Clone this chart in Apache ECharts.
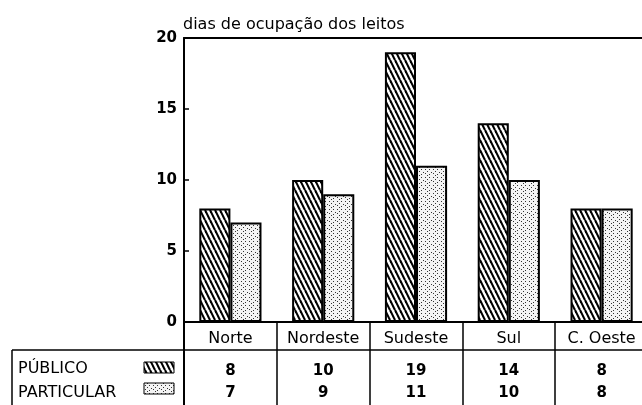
<!DOCTYPE html>
<html>
<head>
<meta charset="utf-8">
<script src="https://cdn.jsdelivr.net/npm/echarts@6/dist/echarts.min.js"></script>
<style>html,body{margin:0;padding:0;background:#fff}#c{width:642px;height:405px}</style>
</head>
<body>
<div id="c"></div>
<script>
var categories = ['Norte', 'Nordeste', 'Sudeste', 'Sul', 'C. Oeste'];
var publico = [8, 10, 19, 14, 8];
var particular = [7, 9, 11, 10, 8];
var seriesNames = ['PÚBLICO', 'PARTICULAR'];
var yTicks = [0, 5, 10, 15, 20];
var titleText = 'dias de ocupação dos leitos';

function hatchCanvas() {
  var c = document.createElement('canvas');
  c.width = 5; c.height = 10;
  var g = c.getContext('2d');
  g.fillStyle = '#fff'; g.fillRect(0, 0, 5, 10);
  g.strokeStyle = '#000'; g.lineWidth = 2.1;
  for (var k = -1; k <= 1; k++) {
    g.beginPath(); g.moveTo(k * 5, 0); g.lineTo(k * 5 + 5, 10); g.stroke();
  }
  return c;
}
function dotCanvas() {
  var c = document.createElement('canvas');
  c.width = 8; c.height = 8;
  var g = c.getContext('2d');
  g.fillStyle = '#f4f4f4'; g.fillRect(0, 0, 8, 8);
  g.fillStyle = '#333';
  [[1,1],[5,1],[3,3],[7,4],[1,5],[5,6],[3,7]].forEach(function (p) { g.fillRect(p[0], p[1], 1, 1); });
  return c;
}
var hatch = {image: hatchCanvas(), repeat: 'repeat'};
var dots = {image: dotCanvas(), repeat: 'repeat'};
var FONT = 'DejaVu Sans';

var chart = echarts.init(document.getElementById('c'), null, {renderer: 'canvas'});
chart.setOption({
  animation: false,
  backgroundColor: '#fff',
  title: {
    text: titleText, left: 178, top: 12,
    textStyle: {fontFamily: FONT, fontSize: 16, fontWeight: 'normal', color: '#000'}
  },
  grid: {left: 184, top: 38, width: 464, height: 284, containLabel: false, outerBoundsMode: 'none'},
  xAxis: [{
    type: 'category', data: categories, position: 'bottom',
    axisLine: {show: true, lineStyle: {color: '#000', width: 2}},
    axisTick: {show: true, interval: 0, length: 83, alignWithLabel: false, lineStyle: {color: '#000', width: 1.5}},
    axisLabel: {
      interval: 0, margin: 3, color: '#000', fontFamily: FONT, hideOverlap: false,
      formatter: function (v, i) {
        return '{h|' + v + '}\n{a|' + publico[i] + '}\n{b|' + particular[i] + '}';
      },
      rich: {
        h: {fontFamily: FONT, fontSize: 16, lineHeight: 28, color: '#000'},
        a: {fontFamily: FONT, fontSize: 15, fontWeight: 'bold', lineHeight: 36, color: '#000'},
        b: {fontFamily: FONT, fontSize: 15, fontWeight: 'bold', lineHeight: 8, color: '#000'}
      }
    },
    splitLine: {show: false}
  }, {
    type: 'category', data: categories, position: 'top',
    axisLine: {show: true, lineStyle: {color: '#000', width: 2}},
    axisTick: {show: false}, axisLabel: {show: false}, splitLine: {show: false}
  }],
  yAxis: {
    type: 'value', min: yTicks[0], max: yTicks[yTicks.length - 1], interval: yTicks[1] - yTicks[0],
    axisLine: {show: true, lineStyle: {color: '#000', width: 2}},
    axisTick: {show: true, inside: true, length: 5, lineStyle: {color: '#000', width: 1.5}},
    axisLabel: {color: '#000', fontFamily: FONT, fontSize: 15, fontWeight: 'bold', margin: 7},
    splitLine: {show: false}
  },
  series: [{
    name: seriesNames[0], type: 'bar', data: publico, barGap: '0%', barCategoryGap: '33%',
    itemStyle: {color: hatch, borderColor: '#000', borderWidth: 2}
  }, {
    name: seriesNames[1], type: 'bar', data: particular,
    itemStyle: {color: dots, borderColor: '#000', borderWidth: 2}
  }],
  graphic: [
    {type: 'line', shape: {x1: 12, y1: 350, x2: 642, y2: 350}, style: {stroke: '#000', lineWidth: 1.5}},
    {type: 'line', shape: {x1: 12, y1: 350, x2: 12, y2: 405}, style: {stroke: '#000', lineWidth: 1.5}},
    {type: 'line', shape: {x1: 184, y1: 322, x2: 184, y2: 405}, style: {stroke: '#000', lineWidth: 2}},
    {type: 'text', x: 18, y: 369, style: {text: seriesNames[0], fontFamily: FONT, fontSize: 16, fill: '#000', verticalAlign: 'middle'}},
    {type: 'text', x: 18, y: 393, style: {text: seriesNames[1], fontFamily: FONT, fontSize: 16, fill: '#000', verticalAlign: 'middle'}},
    {type: 'rect', shape: {x: 144, y: 362, width: 30, height: 11}, style: {fill: hatch, stroke: '#000', lineWidth: 1}},
    {type: 'rect', shape: {x: 144, y: 383, width: 30, height: 11}, style: {fill: dots, stroke: '#000', lineWidth: 1}}
  ]
});
</script>
</body>
</html>
